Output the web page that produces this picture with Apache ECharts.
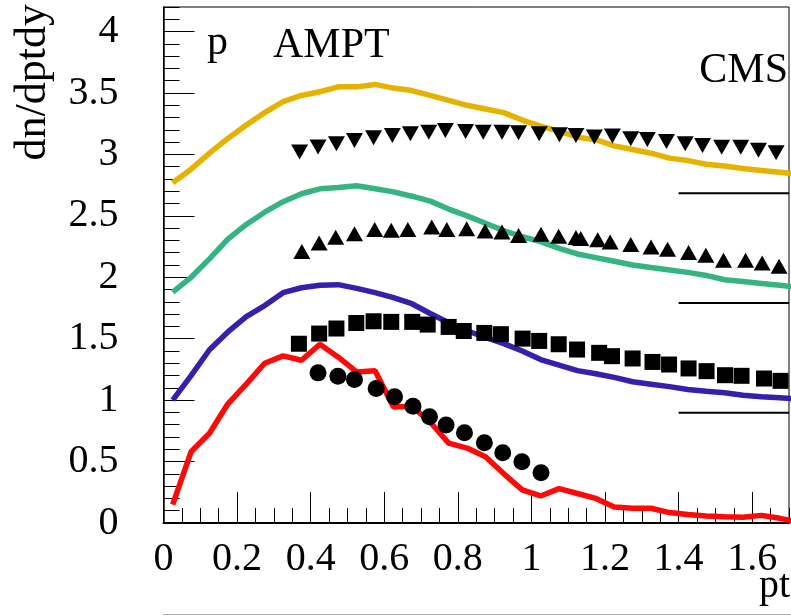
<!DOCTYPE html>
<html>
<head>
<meta charset="utf-8">
<script src="https://cdn.jsdelivr.net/npm/echarts@6/dist/echarts.min.js"></script>
<style>
html,body{margin:0;padding:0;background:#fff;}
#chart{width:791px;height:616px;}
</style>
</head>
<body>
<div id="chart"></div>
<script>
// AMPT curves: bin centres (pt) and dn/dptdy values
var amptX = [0.025,0.075,0.125,0.175,0.225,0.275,0.325,0.375,0.425,0.475,0.525,0.575,0.625,0.675,0.725,0.775,0.825,0.875,0.925,0.975,1.025,1.075,1.125,1.175,1.225,1.275,1.325,1.375,1.425,1.475,1.525,1.575,1.625,1.675,1.725];
var amptYellow = [2.77,2.88,3.01,3.13,3.24,3.34,3.43,3.48,3.51,3.55,3.55,3.57,3.54,3.52,3.48,3.44,3.40,3.37,3.34,3.28,3.23,3.19,3.14,3.12,3.07,3.04,3.01,2.97,2.95,2.92,2.905,2.885,2.87,2.855,2.84];
var amptGreen = [1.88,2.00,2.15,2.31,2.43,2.53,2.615,2.68,2.72,2.73,2.745,2.72,2.695,2.66,2.62,2.555,2.50,2.44,2.38,2.33,2.29,2.235,2.19,2.16,2.13,2.10,2.08,2.06,2.04,2.015,1.98,1.965,1.95,1.935,1.92];
var amptBlue = [1.0,1.20,1.41,1.555,1.68,1.77,1.875,1.915,1.935,1.94,1.91,1.875,1.835,1.785,1.705,1.63,1.565,1.51,1.46,1.40,1.33,1.285,1.24,1.215,1.185,1.15,1.13,1.11,1.087,1.073,1.06,1.04,1.027,1.02,1.01];
var amptRed = [0.15,0.58,0.73,0.97,1.13,1.30,1.36,1.325,1.455,1.35,1.23,1.24,0.945,0.95,0.82,0.65,0.61,0.54,0.40,0.27,0.22,0.28,0.24,0.20,0.13,0.12,0.12,0.085,0.07,0.057,0.05,0.046,0.062,0.038,0.01];

// CMS data points
var circX = [0.42,0.474,0.519,0.578,0.628,0.678,0.723,0.768,0.818,0.872,0.922,0.974,1.026];
var circY = [1.222,1.195,1.168,1.095,1.027,0.95,0.864,0.797,0.734,0.653,0.572,0.498,0.409];
var sqX = [0.368,0.423,0.470,0.524,0.571,0.619,0.676,0.718,0.775,0.816,0.872,0.917,0.976,1.021,1.074,1.124,1.184,1.219,1.275,1.329,1.374,1.427,1.476,1.526,1.571,1.632,1.677];
var sqY = [1.459,1.542,1.583,1.628,1.642,1.637,1.637,1.615,1.596,1.563,1.547,1.537,1.501,1.482,1.455,1.412,1.385,1.358,1.339,1.311,1.290,1.258,1.236,1.203,1.198,1.176,1.157];
var upX = [0.376,0.423,0.468,0.519,0.574,0.619,0.664,0.729,0.770,0.824,0.874,0.920,0.965,1.026,1.074,1.121,1.134,1.180,1.214,1.270,1.325,1.370,1.427,1.474,1.522,1.582,1.627,1.673];
var upY = [2.209,2.279,2.325,2.355,2.388,2.382,2.388,2.409,2.388,2.396,2.376,2.368,2.341,2.350,2.333,2.323,2.315,2.306,2.287,2.266,2.246,2.228,2.201,2.179,2.138,2.138,2.116,2.089];
var dnX = [0.370,0.420,0.470,0.519,0.571,0.622,0.671,0.721,0.766,0.821,0.869,0.920,0.965,1.021,1.076,1.121,1.171,1.220,1.270,1.315,1.367,1.418,1.465,1.517,1.569,1.617,1.665];
var dnY = [3.019,3.06,3.087,3.114,3.136,3.154,3.168,3.181,3.195,3.187,3.181,3.181,3.176,3.168,3.16,3.154,3.141,3.149,3.127,3.122,3.106,3.087,3.073,3.059,3.059,3.033,3.014];

// short horizontal reference lines at right
var refX = [1.4, 1.7];
var refLevels = [2.685, 1.79, 0.897];

var xMin = 0, xMax = 1.7, yMin = 0, yMax = 4.2;

function pairs(xs, ys){ return xs.map(function(x,i){ return [x, ys[i]]; }); }

var FONT = 'Liberation Serif';
var chart = echarts.init(document.getElementById('chart'), null, {renderer:'canvas'});

var lineSeries = function(ys, color){
  return {type:'line', data:pairs(amptX, ys), showSymbol:false, symbol:'none', smooth:false,
    lineStyle:{color:color, width:5.5, opacity:1}, z:3, animation:false, clip:true};
};
var mk = {color:'#000', opacity:1, borderWidth:0};

var series = [
  lineSeries(amptYellow, '#E6B200'),
  lineSeries(amptGreen, '#35B381'),
  lineSeries(amptBlue, '#3520AC'),
  lineSeries(amptRed, '#FF0808'),
  {type:'scatter', data:pairs(dnX, dnY), symbol:'triangle', symbolRotate:180, symbolSize:[17,15], itemStyle:mk, z:4, animation:false},
  {type:'scatter', data:pairs(upX, upY), symbol:'triangle', symbolSize:[17,15], itemStyle:mk, z:4, animation:false},
  {type:'scatter', data:pairs(sqX, sqY), symbol:'rect', symbolSize:16, itemStyle:mk, z:4, animation:false},
  {type:'scatter', data:pairs(circX, circY), symbol:'circle', symbolSize:17, itemStyle:mk, z:4, animation:false}
];
refLevels.forEach(function(v){
  series.push({type:'line', data:refX.map(function(x){return [x, v];}), showSymbol:false, symbol:'none',
    lineStyle:{color:'#000', width:2}, z:2, animation:false});
});

var option = {
  backgroundColor:'#fff',
  animation:false,
  grid:{left:163.5, right:2, top:7, bottom:93, show:true, borderColor:'#000', borderWidth:1, backgroundColor:'transparent'},
  xAxis:[
    {type:'value', min:xMin, max:xMax, interval:0.2, position:'bottom',
     axisLine:{show:true, onZero:false, lineStyle:{color:'#000', width:2}},
     axisTick:{show:true, inside:true, length:31, lineStyle:{color:'#000', width:1}},
     axisLabel:{show:true, margin:16, fontFamily:FONT, fontSize:40, color:'#000', showMaxLabel:false, showMinLabel:true, hideOverlap:false},
     splitLine:{show:false}},
    {type:'value', min:xMin, max:xMax, interval:0.05, position:'bottom',
     axisLine:{show:false, onZero:false},
     axisTick:{show:true, inside:true, length:15, lineStyle:{color:'#000', width:1}},
     axisLabel:{show:false}, splitLine:{show:false}}
  ],
  yAxis:[
    {type:'value', min:yMin, max:yMax, interval:0.5, position:'left',
     axisLine:{show:true, onZero:false, lineStyle:{color:'#000', width:1.5}},
     axisTick:{show:true, inside:true, length:31, lineStyle:{color:'#000', width:1}},
     axisLabel:{show:true, margin:45, fontFamily:FONT, fontSize:40, color:'#000', showMaxLabel:false, showMinLabel:true, hideOverlap:false},
     splitLine:{show:false}},
    {type:'value', min:yMin, max:yMax, interval:0.1, position:'left',
     axisLine:{show:false, onZero:false},
     axisTick:{show:true, inside:true, length:16, lineStyle:{color:'#000', width:1}},
     axisLabel:{show:false}, splitLine:{show:false}}
  ],
  series:series,
  graphic:[
    {type:'text', x:207, y:43, z:10, style:{text:'p', font:'42px "Liberation Serif"', fill:'#000', textAlign:'left', textVerticalAlign:'middle'}},
    {type:'text', x:273, y:46, z:10, style:{text:'AMPT', font:'42px "Liberation Serif"', fill:'#000', textAlign:'left', textVerticalAlign:'middle'}},
    {type:'text', x:788, y:71, z:10, style:{text:'CMS', font:'42px "Liberation Serif"', fill:'#000', textAlign:'right', textVerticalAlign:'middle'}},
    {type:'text', x:790, y:586, z:10, style:{text:'pt', font:'40px "Liberation Serif"', fill:'#000', textAlign:'right', textVerticalAlign:'middle'}},
    {type:'text', x:33, y:4, rotation:Math.PI/2, z:10, style:{text:'dn/dptdy', font:'44px "Liberation Serif"', fill:'#000', textAlign:'right', textVerticalAlign:'middle'}},
    {type:'line', z:1, shape:{x1:163, y1:614.5, x2:791, y2:614.5}, style:{stroke:'#b0b0b0', lineWidth:1}}
  ]
};
chart.setOption(option);
</script>
</body>
</html>
